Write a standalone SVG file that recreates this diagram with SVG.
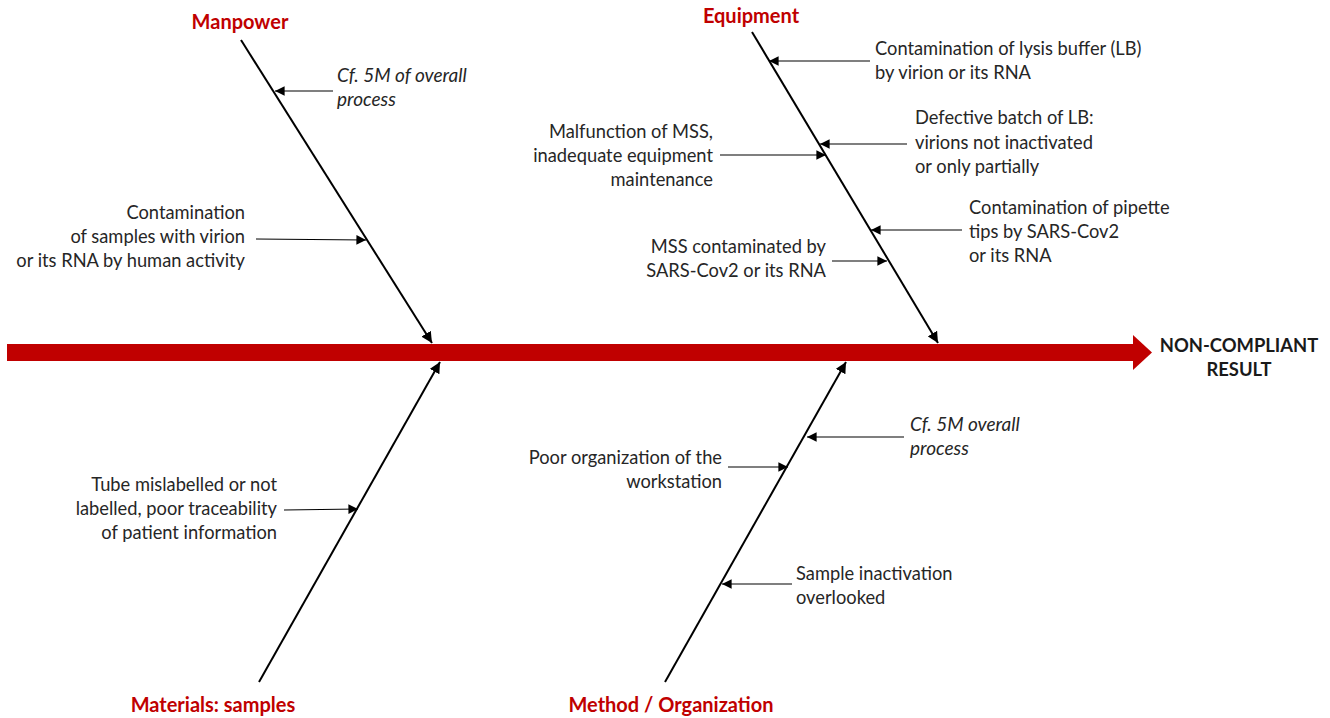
<svg xmlns="http://www.w3.org/2000/svg" width="1330" height="718" viewBox="0 0 1330 718">
<style>
text{font-family:Lato,"Liberation Sans",sans-serif;font-size:18.3px;fill:#262626}
.it{font-style:italic;font-size:19px}
.r{text-anchor:end}
.t{font-weight:bold;fill:#c00000;text-anchor:middle;font-size:20px}
.res{font-weight:bold;fill:#1a1a1a;text-anchor:middle;font-size:18.4px}
.bone{stroke:#000;stroke-width:2;fill:none;marker-end:url(#ah)}
.sub{stroke:#000;stroke-width:1.2;fill:none;marker-end:url(#as)}
</style>
<defs>
<marker id="ah" viewBox="0 0 10 10" refX="10" refY="5" markerWidth="5.5" markerHeight="5.5" orient="auto" markerUnits="strokeWidth"><path d="M0,0 L10,5 L0,10 z" fill="#000"/></marker>
<marker id="as" viewBox="0 0 10 10" refX="10" refY="5" markerWidth="9" markerHeight="8" orient="auto" markerUnits="strokeWidth"><path d="M0,0 L10,5 L0,10 z" fill="#000"/></marker>
</defs>
<rect width="1330" height="718" fill="#fff"/>
<g id="spine">
<rect x="7" y="344" width="1127" height="17" fill="#c00000"/>
<polygon points="1133,335 1152,352.5 1133,370" fill="#c00000"/>
</g>
<g id="connectors">
<line class="bone" x1="241" y1="40" x2="432" y2="343"/>
<line class="bone" x1="259" y1="682" x2="440" y2="362"/>
<line class="bone" x1="752" y1="32" x2="938" y2="343"/>
<line class="bone" x1="665" y1="682" x2="846" y2="362"/>
<line class="sub" x1="333" y1="91" x2="275" y2="91"/>
<line class="sub" x1="256" y1="239" x2="366" y2="240"/>
<line class="sub" x1="284" y1="510" x2="358" y2="509"/>
<line class="sub" x1="870" y1="61" x2="769" y2="61"/>
<line class="sub" x1="907" y1="144" x2="820" y2="144"/>
<line class="sub" x1="720" y1="155" x2="826" y2="155"/>
<line class="sub" x1="962" y1="230" x2="871" y2="230"/>
<line class="sub" x1="832" y1="261" x2="887" y2="261"/>
<line class="sub" x1="904" y1="437" x2="807" y2="437"/>
<line class="sub" x1="728" y1="467" x2="788" y2="467"/>
<line class="sub" x1="792" y1="584" x2="722" y2="584"/>
</g>
<g id="manpower">
<text class="t" x="240" y="29">Manpower</text>
<text class="it" x="337" y="82">Cf. 5M of overall</text>
<text class="it" x="337" y="106">process</text>
<text class="r" x="245" y="219">Contamination</text>
<text class="r" x="245" y="243">of samples with virion</text>
<text class="r" x="245" y="267">or its RNA by human activity</text>
</g>
<g id="equipment">
<text class="t" x="751" y="23">Equipment</text>
<text x="875" y="55">Contamination of lysis buffer (LB)</text>
<text x="875" y="79">by virion or its RNA</text>
<text x="915" y="124">Defective batch of LB:</text>
<text x="915" y="149">virions not inactivated</text>
<text x="915" y="173">or only partially</text>
<text class="r" x="713" y="138">Malfunction of MSS,</text>
<text class="r" x="713" y="162">inadequate equipment</text>
<text class="r" x="713" y="186">maintenance</text>
<text x="969" y="214">Contamination of pipette</text>
<text x="969" y="238">tips by SARS-Cov2</text>
<text x="969" y="262">or its RNA</text>
<text class="r" x="826" y="253">MSS contaminated by</text>
<text class="r" x="826" y="277">SARS-Cov2 or its RNA</text>
</g>
<g id="materials">
<text class="t" x="213" y="712">Materials: samples</text>
<text class="r" x="277" y="491">Tube mislabelled or not</text>
<text class="r" x="277" y="515">labelled, poor traceability</text>
<text class="r" x="277" y="539">of patient information</text>
</g>
<g id="method">
<text class="t" x="671" y="712">Method / Organization</text>
<text class="it" x="910" y="431">Cf. 5M overall</text>
<text class="it" x="910" y="455">process</text>
<text class="r" x="722" y="464">Poor organization of the</text>
<text class="r" x="722" y="488">workstation</text>
<text x="796" y="580">Sample inactivation</text>
<text x="796" y="604">overlooked</text>
</g>
<g id="result">
<text class="res" x="1239" y="352">NON-COMPLIANT</text>
<text class="res" x="1239" y="376">RESULT</text>
</g>
</svg>
